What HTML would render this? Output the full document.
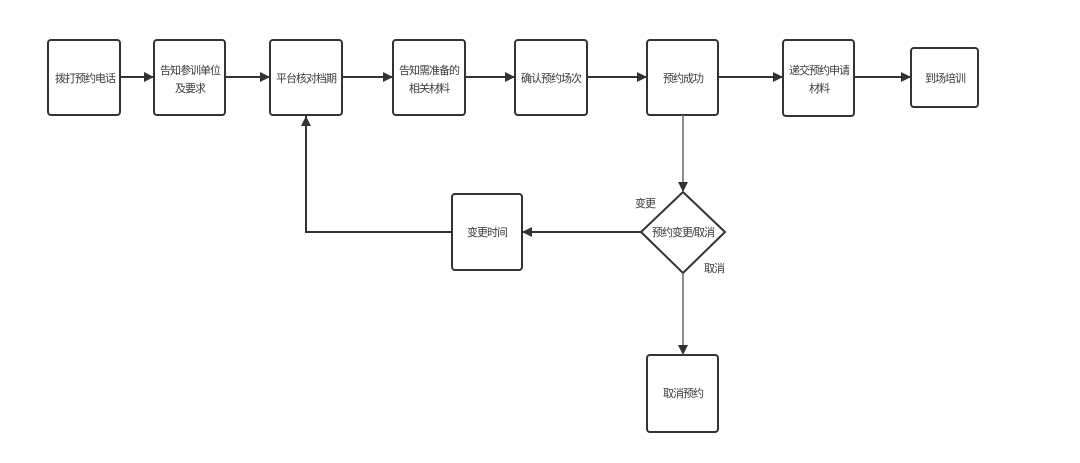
<!DOCTYPE html>
<html><head><meta charset="utf-8"><style>
html,body{margin:0;padding:0;background:#fff;}
body{width:1080px;height:458px;overflow:hidden;}
svg text{font-family:"Liberation Sans","Noto Sans CJK SC",sans-serif;font-size:11px;fill:#3a3a3a;letter-spacing:-1px;}
</style></head><body>
<svg width="1080" height="458" viewBox="0 0 1080 458" xmlns="http://www.w3.org/2000/svg">
<defs>
<marker id="ah" viewBox="0 0 10 10" refX="10" refY="5" markerWidth="10" markerHeight="10" markerUnits="userSpaceOnUse" orient="auto">
<path d="M0,0 L10,5 L0,10 Z" fill="#333"/>
</marker>
</defs>
<g fill="#fff" stroke="#333" stroke-width="2">
<rect x="48" y="40" width="72" height="75" rx="3"/>
<rect x="154" y="40" width="71" height="75" rx="3"/>
<rect x="270" y="40" width="72" height="75" rx="3"/>
<rect x="393" y="40" width="72" height="75" rx="3"/>
<rect x="515" y="40" width="72" height="75" rx="3"/>
<rect x="647" y="40" width="71" height="75" rx="3"/>
<rect x="783" y="40" width="71" height="76" rx="3"/>
<rect x="911" y="48" width="67" height="59" rx="3"/>
<rect x="452" y="194" width="70" height="76" rx="3"/>
<rect x="647" y="355" width="71" height="77" rx="3"/>
<path d="M683,192 L725,232 L683,273 L641,232 Z"/>
</g>
<g stroke="#333" stroke-width="2" fill="none">
<line x1="120" y1="77" x2="154" y2="77" marker-end="url(#ah)"/>
<line x1="225" y1="77" x2="270" y2="77" marker-end="url(#ah)"/>
<line x1="342" y1="77" x2="393" y2="77" marker-end="url(#ah)"/>
<line x1="465" y1="77" x2="515" y2="77" marker-end="url(#ah)"/>
<line x1="587" y1="77" x2="647" y2="77" marker-end="url(#ah)"/>
<line x1="718" y1="77" x2="783" y2="77" marker-end="url(#ah)"/>
<line x1="854" y1="77" x2="911" y2="77" marker-end="url(#ah)"/>
<line x1="641" y1="232" x2="522" y2="232" marker-end="url(#ah)"/>
<polyline points="452,232 306,232 306,116" marker-end="url(#ah)"/>
</g>
<g stroke="#666" stroke-width="1.5" fill="none">
<line x1="683" y1="115" x2="683" y2="192" marker-end="url(#ah)"/>
<line x1="683" y1="273" x2="683" y2="355" marker-end="url(#ah)"/>
</g>
<g text-anchor="middle">
<text x="85" y="82">拨打预约电话</text>
<text x="190" y="74">告知参训单位</text>
<text x="190" y="92">及要求</text>
<text x="306" y="82">平台核对档期</text>
<text x="429" y="74">告知需准备的</text>
<text x="429" y="92">相关材料</text>
<text x="551" y="82">确认预约场次</text>
<text x="683" y="82">预约成功</text>
<text x="819" y="74">递交预约申请</text>
<text x="819" y="92">材料</text>
<text x="945" y="82">到场培训</text>
<text x="487" y="236">变更时间</text>
<text x="683" y="236">预约变更/取消</text>
<text x="683" y="397">取消预约</text>
<text x="645" y="207">变更</text>
<text x="714" y="272">取消</text>
</g>
</svg>
</body></html>
